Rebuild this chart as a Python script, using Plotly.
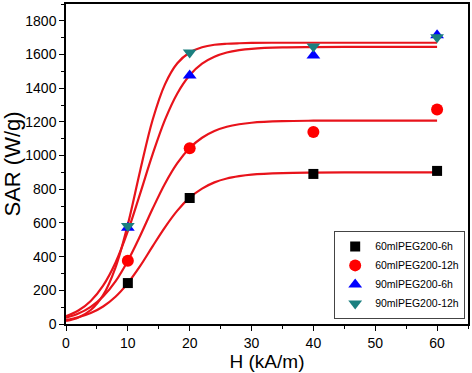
import plotly.graph_objects as go

# measured data points
H_pts = [10, 20, 40, 60]
sar_60_6h = [243, 748, 891, 909]
sar_60_12h = [376, 1043, 1140, 1274]
sar_90_6h = [572, 1476, 1594, 1715]
sar_90_12h = [582, 1612, 1647, 1703]

# fitted curves
H_fit = [0, 2, 4, 6, 8, 10, 12, 14, 16, 18, 20, 22, 24, 26, 28, 30, 35, 40, 45, 50, 55, 60]
fit_60_6h = [24, 40, 65, 104, 162, 243, 345, 461, 574, 673, 750, 804, 841, 864, 878, 887, 896, 899, 900, 900, 900, 900]
fit_60_12h = [37, 62, 102, 163, 253, 376, 524, 684, 833, 955, 1045, 1106, 1146, 1171, 1186, 1195, 1204, 1207, 1208, 1208, 1208, 1208]
fit_90_6h = [46, 80, 137, 228, 364, 551, 776, 1007, 1212, 1369, 1477, 1546, 1587, 1612, 1626, 1634, 1642, 1644, 1645, 1645, 1645, 1645]
fit_90_12h = [18, 39, 83, 171, 335, 592, 912, 1211, 1423, 1548, 1612, 1643, 1658, 1664, 1667, 1669, 1670, 1670, 1670, 1670, 1670, 1670]

names = ["60mlPEG200-6h", "60mlPEG200-12h", "90mlPEG200-6h", "90mlPEG200-12h"]

fig = go.Figure()
for fy in [fit_60_6h, fit_60_12h, fit_90_6h, fit_90_12h]:
    fig.add_trace(go.Scatter(x=H_fit, y=fy, mode="lines", line=dict(color="#e8131b", width=2.2, shape="spline"),
                             showlegend=False, hoverinfo="skip"))

styles = [
    dict(symbol="square", color="black", size=10),
    dict(symbol="circle", color="#ff0000", size=12),
    dict(symbol="triangle-up", color="#0000ff", size=12),
    dict(symbol="triangle-down", color="#1b7f7f", size=12),
]
for nm, ys, st in zip(names, [sar_60_6h, sar_60_12h, sar_90_6h, sar_90_12h], styles):
    fig.add_trace(go.Scatter(x=H_pts, y=ys, mode="markers", name=nm,
                             marker=dict(symbol=st["symbol"], color=st["color"], size=st["size"], line=dict(width=0))))

axis_common = dict(showline=True, linecolor="black", linewidth=1.5, mirror=True, ticks="outside",
                   ticklen=5, tickwidth=1.3, tickcolor="black", showgrid=False, zeroline=False,
                   tickfont=dict(family="Liberation Sans, Arial", size=14, color="black"))

fig.update_layout(
    width=472, height=373,
    margin=dict(l=66, r=2, t=2, b=49),
    paper_bgcolor="white", plot_bgcolor="white",
    xaxis=dict(range=[0, 65], dtick=10, tick0=0,
               minor=dict(dtick=5, ticks="outside", ticklen=3, tickcolor="black", tickwidth=1.2),
               title=dict(text="H (kA/m)", font=dict(family="Liberation Sans, Arial", size=19, color="black"), standoff=4),
               **axis_common),
    yaxis=dict(range=[0, 1900], dtick=200, tick0=0,
               minor=dict(dtick=100, ticks="outside", ticklen=3, tickcolor="black", tickwidth=1.2),
               title=dict(text="SAR (W/g)", font=dict(family="Liberation Sans, Arial", size=22, color="black"), standoff=8),
               **axis_common),
    legend=dict(x=0.993, y=0.016, xanchor="right", yanchor="bottom", bgcolor="white",
                bordercolor="#444", borderwidth=1, tracegroupgap=0, itemwidth=30,
                font=dict(family="Liberation Sans, Arial", size=10.5, color="black")),
    showlegend=True,
)

fig.write_html("out.html", config={"displayModeBar": False},
               post_script="document.body.style.margin='0';document.body.style.padding='0';")
